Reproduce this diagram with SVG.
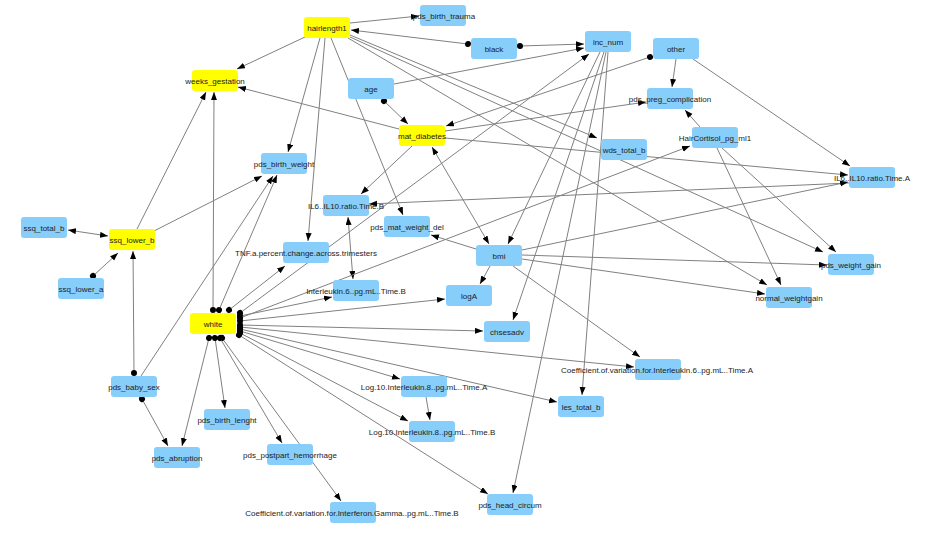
<svg xmlns="http://www.w3.org/2000/svg" width="934" height="533" viewBox="0 0 934 533">
<style>
.n rect{rx:3;ry:3}
.b rect{fill:#87CEFA}
.y rect{fill:#FFFF00}
text{font-family:"Liberation Sans",Arial,sans-serif;font-size:8px;fill:#222;text-anchor:middle}
#edges line{stroke:#808080;stroke-width:1;fill:none}
.a{marker-end:url(#arr)}
.d{marker-start:url(#dot);marker-end:url(#arr)}
.bb{marker-start:url(#arrs);marker-end:url(#arr)}
</style>
<defs>
<marker id="arr" markerWidth="9" markerHeight="7" refX="8" refY="3" orient="auto" markerUnits="userSpaceOnUse"><path d="M0,0 L8,3 L0,6 z" fill="#000"/></marker>
<marker id="arrs" markerWidth="9" markerHeight="7" refX="8" refY="3" orient="auto-start-reverse" markerUnits="userSpaceOnUse"><path d="M0,0 L8,3 L0,6 z" fill="#000"/></marker>
<marker id="dot" markerWidth="8" markerHeight="8" refX="4" refY="4" orient="auto" markerUnits="userSpaceOnUse"><circle cx="4" cy="4" r="3" fill="#000"/></marker>
</defs>
<rect width="934" height="533" fill="#fff"/>
<g id="edges">
<line class="a" x1="350" y1="23" x2="419" y2="16"/>
<line class="d" x1="468" y1="44" x2="351" y2="30"/>
<line class="d" x1="520" y1="46" x2="584" y2="44"/>
<line class="a" x1="394" y1="84" x2="584" y2="48"/>
<line class="a" x1="305" y1="37" x2="237" y2="69"/>
<line class="a" x1="399" y1="129" x2="238" y2="87"/>
<line class="d" x1="384" y1="101" x2="408" y2="124"/>
<line class="a" x1="320" y1="38" x2="288" y2="152"/>
<line class="a" x1="325" y1="38" x2="308" y2="241"/>
<line class="a" x1="331" y1="38" x2="403" y2="215"/>
<line class="a" x1="350" y1="35" x2="597" y2="138"/>
<line class="a" x1="350" y1="37" x2="823" y2="252"/>
<line class="a" x1="348" y1="38" x2="767" y2="285"/>
<line class="d" x1="650" y1="57" x2="446" y2="126"/>
<line class="a" x1="676" y1="59" x2="672" y2="87"/>
<line class="a" x1="693" y1="59" x2="850" y2="166"/>
<line class="a" x1="445" y1="131" x2="646" y2="102"/>
<line class="a" x1="700" y1="127" x2="685" y2="110"/>
<line class="a" x1="445" y1="138" x2="848" y2="175"/>
<line class="a" x1="412" y1="146" x2="361" y2="194"/>
<line class="bb" x1="432" y1="147" x2="489" y2="244"/>
<line class="a" x1="849" y1="183" x2="369" y2="204"/>
<line class="bb" x1="348" y1="217" x2="353" y2="279"/>
<line class="a" x1="722" y1="148" x2="836" y2="252"/>
<line class="a" x1="717" y1="148" x2="781" y2="285"/>
<line class="a" x1="522" y1="250" x2="848" y2="182"/>
<line class="a" x1="522" y1="255" x2="827" y2="265"/>
<line class="a" x1="522" y1="259" x2="765" y2="294"/>
<line class="a" x1="513" y1="266" x2="640" y2="357"/>
<line class="a" x1="490" y1="266" x2="480" y2="284"/>
<line class="a" x1="476" y1="249" x2="431" y2="235"/>
<line class="a" x1="600" y1="52" x2="508" y2="244"/>
<line class="a" x1="604" y1="52" x2="513" y2="320"/>
<line class="a" x1="606" y1="52" x2="513" y2="493"/>
<line class="a" x1="608" y1="52" x2="582" y2="395"/>
<line class="d" x1="213" y1="310" x2="214" y2="92"/>
<line class="d" x1="219" y1="310" x2="277" y2="175"/>
<line class="d" x1="229" y1="310" x2="285" y2="266"/>
<line class="d" x1="240" y1="313" x2="589" y2="54"/>
<line class="d" x1="240" y1="316" x2="332" y2="297"/>
<line class="d" x1="240" y1="318" x2="690" y2="146"/>
<line class="d" x1="240" y1="321" x2="445" y2="299"/>
<line class="d" x1="240" y1="325" x2="483" y2="331"/>
<line class="d" x1="240" y1="327" x2="634" y2="367"/>
<line class="d" x1="240" y1="329" x2="557" y2="402"/>
<line class="d" x1="240" y1="331" x2="400" y2="379"/>
<line class="d" x1="240" y1="333" x2="408" y2="421"/>
<line class="d" x1="239" y1="335" x2="488" y2="494"/>
<line class="d" x1="222" y1="338" x2="341" y2="501"/>
<line class="d" x1="220" y1="338" x2="282" y2="443"/>
<line class="d" x1="215" y1="338" x2="225" y2="408"/>
<line class="d" x1="209" y1="338" x2="182" y2="446"/>
<line class="a" x1="426" y1="397" x2="430" y2="420"/>
<line class="bb" x1="68" y1="230" x2="108" y2="236"/>
<line class="d" x1="93" y1="276" x2="118" y2="253"/>
<line class="d" x1="134" y1="373" x2="133" y2="251"/>
<line class="d" x1="142" y1="399" x2="168" y2="446"/>
<line class="a" x1="137" y1="229" x2="206" y2="92"/>
<line class="a" x1="154" y1="231" x2="262" y2="176"/>
<line class="a" x1="141" y1="376" x2="273" y2="176"/>
</g>
<g id="n-hairlength1" class="n y"><rect x="304" y="17" width="46" height="21"/><text x="327" y="30.5">hairlength1</text></g>
<g id="n-pds_birth_trauma" class="n b"><rect x="420" y="5" width="46" height="21"/><text x="444" y="18.5">pds_birth_trauma</text></g>
<g id="n-black" class="n b"><rect x="471" y="38" width="46" height="21"/><text x="494" y="51.5">black</text></g>
<g id="n-inc_num" class="n b"><rect x="585" y="31" width="46" height="21"/><text x="608" y="44.5">inc_num</text></g>
<g id="n-other" class="n b"><rect x="653" y="38" width="46" height="21"/><text x="676" y="51.5">other</text></g>
<g id="n-pds_preg_complication" class="n b"><rect x="647" y="88" width="46" height="21"/><text x="670" y="101.5">pds_preg_complication</text></g>
<g id="n-HairCortisol_pg_ml1" class="n b"><rect x="692" y="127" width="46" height="21"/><text x="715" y="140.5">HairCortisol_pg_ml1</text></g>
<g id="n-wds_total_b" class="n b"><rect x="601" y="139" width="46" height="21"/><text x="624" y="152.5">wds_total_b</text></g>
<g id="n-IL6A" class="n b"><rect x="849" y="167" width="46" height="21"/><text x="872" y="180.5">IL6..IL10.ratio.Time.A</text></g>
<g id="n-weeks_gestation" class="n y"><rect x="192" y="70" width="46" height="21"/><text x="215" y="83.5">weeks_gestation</text></g>
<g id="n-age" class="n b"><rect x="348" y="78" width="46" height="21"/><text x="371" y="91.5">age</text></g>
<g id="n-mat_diabetes" class="n y"><rect x="399" y="125" width="46" height="21"/><text x="422" y="138.5">mat_diabetes</text></g>
<g id="n-pds_birth_weight" class="n b"><rect x="261" y="153" width="46" height="21"/><text x="284" y="166.5">pds_birth_weight</text></g>
<g id="n-IL6B" class="n b"><rect x="323" y="195" width="46" height="21"/><text x="346" y="208.5">IL6..IL10.ratio.Time.B</text></g>
<g id="n-pds_mat_weight_del" class="n b"><rect x="384" y="216" width="46" height="21"/><text x="407" y="229.5">pds_mat_weight_del</text></g>
<g id="n-TNF" class="n b"><rect x="283" y="242" width="46" height="21"/><text x="306" y="255.5">TNF.a.percent.change.across.trimesters</text></g>
<g id="n-IL6pgB" class="n b"><rect x="333" y="280" width="46" height="21"/><text x="356" y="293.5">Interleukin.6..pg.mL..Time.B</text></g>
<g id="n-logA" class="n b"><rect x="446" y="285" width="46" height="21"/><text x="469" y="298.5">logA</text></g>
<g id="n-bmi" class="n b"><rect x="476" y="245" width="46" height="21"/><text x="499" y="258.5">bmi</text></g>
<g id="n-chsesadv" class="n b"><rect x="484" y="321" width="46" height="21"/><text x="507" y="334.5">chsesadv</text></g>
<g id="n-ssq_total_b" class="n b"><rect x="21" y="217" width="46" height="21"/><text x="44" y="230.5">ssq_total_b</text></g>
<g id="n-ssq_lower_b" class="n y"><rect x="109" y="229" width="46" height="21"/><text x="132" y="242.5">ssq_lower_b</text></g>
<g id="n-ssq_lower_a" class="n b"><rect x="58" y="278" width="46" height="21"/><text x="81" y="291.5">ssq_lower_a</text></g>
<g id="n-white" class="n y"><rect x="190" y="313" width="46" height="21"/><text x="213" y="326.5">white</text></g>
<g id="n-pds_weight_gain" class="n b"><rect x="828" y="254" width="46" height="21"/><text x="851" y="267.5">pds_weight_gain</text></g>
<g id="n-normal_weightgain" class="n b"><rect x="766" y="287" width="46" height="21"/><text x="789" y="300.5">normal_weightgain</text></g>
<g id="n-pds_baby_sex" class="n b"><rect x="111" y="376" width="46" height="21"/><text x="134" y="389.5">pds_baby_sex</text></g>
<g id="n-pds_abruption" class="n b"><rect x="154" y="447" width="46" height="21"/><text x="177" y="460.5">pds_abruption</text></g>
<g id="n-pds_birth_lenght" class="n b"><rect x="204" y="409" width="46" height="21"/><text x="227" y="422.5">pds_birth_lenght</text></g>
<g id="n-IL8A" class="n b"><rect x="401" y="376" width="46" height="21"/><text x="424" y="389.5">Log.10.Interleukin.8..pg.mL..Time.A</text></g>
<g id="n-IL8B" class="n b"><rect x="409" y="421" width="46" height="21"/><text x="432" y="434.5">Log.10.Interleukin.8..pg.mL..Time.B</text></g>
<g id="n-pds_postpart_hemorrhage" class="n b"><rect x="267" y="444" width="46" height="21"/><text x="290" y="457.5">pds_postpart_hemorrhage</text></g>
<g id="n-CoefIFNB" class="n b"><rect x="330" y="502" width="46" height="21"/><text x="352" y="515.5">Coefficient.of.variation.for.Interferon.Gamma..pg.mL..Time.B</text></g>
<g id="n-les_total_b" class="n b"><rect x="558" y="396" width="46" height="21"/><text x="581" y="409.5">les_total_b</text></g>
<g id="n-CoefIL6A" class="n b"><rect x="635" y="359" width="46" height="21"/><text x="657" y="372.5">Coefficient.of.variation.for.Interleukin.6..pg.mL..Time.A</text></g>
<g id="n-pds_head_circum" class="n b"><rect x="487" y="494" width="46" height="21"/><text x="510" y="507.5">pds_head_circum</text></g>
</svg>
